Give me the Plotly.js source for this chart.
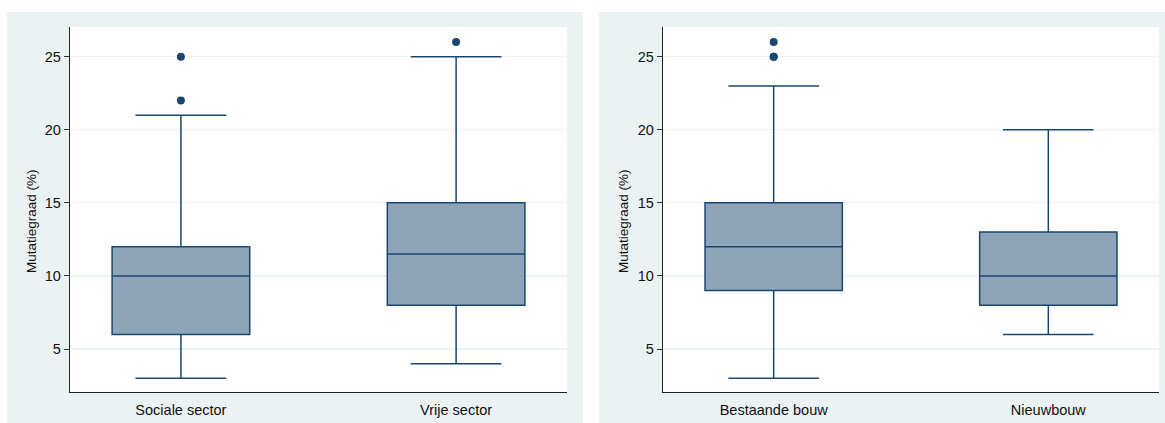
<!DOCTYPE html>
<html>
<head>
<meta charset="utf-8">
<script src="https://cdn.plot.ly/plotly-3.0.1.min.js"></script>
<style>
  html, body { margin: 0; padding: 0; background: #ffffff; }
  #chart { width: 1165px; height: 423px; }
</style>
</head>
<body>
<div id="chart"></div>
<script>
// Left panel: housing sector
const sectorCategories = ['Sociale sector', 'Vrije sector'];
const sectorLowerWhisker = [3, 4];
const sectorQ1 = [6, 8];
const sectorMedian = [10, 11.5];
const sectorQ3 = [12, 15];
const sectorUpperWhisker = [21, 25];
const sectorOutlierCats = ['Sociale sector', 'Sociale sector', 'Vrije sector'];
const sectorOutlierValues = [22, 25, 26];

// Right panel: building type
const bouwCategories = ['Bestaande bouw', 'Nieuwbouw'];
const bouwLowerWhisker = [3, 6];
const bouwQ1 = [9, 8];
const bouwMedian = [12, 10];
const bouwQ3 = [15, 13];
const bouwUpperWhisker = [23, 20];
const bouwOutlierCats = ['Bestaande bouw', 'Bestaande bouw', 'Bestaande bouw'];
const bouwOutlierValues = [25, 25, 26];

const yTickValues = [5, 10, 15, 20, 25];
const yTitle = 'Mutatiegraad (%)';

const W = 1165, H = 423;
const NAVY = '#1a476f';
const BOX_FILL = '#8ea4b9';
const PANEL = '#eaf2f3';
const FAMILY = '"Liberation Sans", Arial, Helvetica, sans-serif';
const FONT = { family: FAMILY, size: 14.5, color: '#111' };
const TITLE_FONT = { family: FAMILY, size: 13.5, color: '#111' };

function boxTrace(cats, lo, q1, med, q3, hi, xa, ya) {
  return {
    type: 'box',
    x: cats, q1: q1, median: med, q3: q3,
    lowerfence: lo, upperfence: hi,
    boxpoints: false,
    width: 0.5,
    whiskerwidth: 0.66,
    fillcolor: BOX_FILL,
    line: { color: NAVY, width: 1.5 },
    xaxis: xa, yaxis: ya,
    hoverinfo: 'skip',
    showlegend: false
  };
}

function outlierTrace(cats, vals, xa, ya) {
  return {
    type: 'scatter', mode: 'markers',
    x: cats, y: vals,
    marker: { color: NAVY, size: 8 },
    xaxis: xa, yaxis: ya,
    hoverinfo: 'skip',
    showlegend: false
  };
}

const data = [
  boxTrace(sectorCategories, sectorLowerWhisker, sectorQ1, sectorMedian, sectorQ3, sectorUpperWhisker, 'x', 'y'),
  outlierTrace(sectorOutlierCats, sectorOutlierValues, 'x', 'y'),
  boxTrace(bouwCategories, bouwLowerWhisker, bouwQ1, bouwMedian, bouwQ3, bouwUpperWhisker, 'x2', 'y2'),
  outlierTrace(bouwOutlierCats, bouwOutlierValues, 'x2', 'y2')
];

const px = v => v / W;
const py = v => (H - v) / H;

function xAxis(domain, cats) {
  return {
    domain: domain,
    type: 'category',
    categoryorder: 'array',
    categoryarray: cats,
    range: [-0.403, 1.403],
    showline: true, linecolor: '#222', linewidth: 1.3,
    showgrid: false, zeroline: false,
    ticks: 'outside', ticklen: 4, tickcolor: 'rgba(0,0,0,0)',
    tickfont: FONT,
    fixedrange: true
  };
}

function yAxis(anchor) {
  return {
    domain: [py(392), py(27)],
    anchor: anchor,
    range: [2.06, 27.03],
    tickvals: yTickValues,
    ticktext: yTickValues.map(String),
    showline: true, linecolor: '#222', linewidth: 1.3,
    ticks: 'outside', ticklen: 5, tickcolor: '#333', tickwidth: 1,
    tickfont: FONT,
    showgrid: true, gridcolor: PANEL, gridwidth: 1.2,
    zeroline: false,
    fixedrange: true
  };
}

// y-axis titles, placed beside each panel's tick labels
function yTitleAnnotation(xPixel) {
  return {
    xref: 'paper', yref: 'paper',
    x: px(xPixel), y: py(221),
    text: yTitle, textangle: -90,
    showarrow: false,
    font: TITLE_FONT,
    xanchor: 'center', yanchor: 'middle'
  };
}

const layout = {
  width: W, height: H,
  autosize: false,
  margin: { l: 0, r: 0, t: 0, b: 0, pad: 0 },
  paper_bgcolor: '#ffffff',
  plot_bgcolor: 'rgba(0,0,0,0)',
  font: FONT,
  showlegend: false,
  xaxis: Object.assign(xAxis([px(70), px(567)], sectorCategories), { anchor: 'y' }),
  yaxis: yAxis('x'),
  xaxis2: Object.assign(xAxis([px(663), px(1159)], bouwCategories), { anchor: 'y2' }),
  yaxis2: yAxis('x2'),
  annotations: [yTitleAnnotation(31), yTitleAnnotation(623)],
  shapes: [
    // panel backgrounds
    { type: 'rect', xref: 'paper', yref: 'paper', layer: 'below',
      x0: px(7), x1: px(583), y0: 0, y1: py(12), fillcolor: PANEL, line: { width: 0 } },
    { type: 'rect', xref: 'paper', yref: 'paper', layer: 'below',
      x0: px(599), x1: 1, y0: 0, y1: py(12), fillcolor: PANEL, line: { width: 0 } },
    // white plot regions
    { type: 'rect', xref: 'paper', yref: 'paper', layer: 'below',
      x0: px(70), x1: px(567), y0: py(392), y1: py(27), fillcolor: '#ffffff', line: { width: 0 } },
    { type: 'rect', xref: 'paper', yref: 'paper', layer: 'below',
      x0: px(663), x1: px(1159), y0: py(392), y1: py(27), fillcolor: '#ffffff', line: { width: 0 } }
  ]
};

Plotly.newPlot('chart', data, layout, { displayModeBar: false, staticPlot: true });
</script>
</body>
</html>
